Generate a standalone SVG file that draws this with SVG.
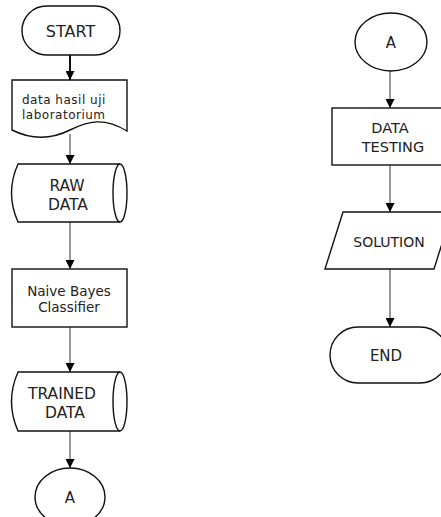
<svg xmlns="http://www.w3.org/2000/svg" width="441" height="517" viewBox="0 0 441 517">
<defs>
<marker id="ah" viewBox="0 0 10 10" refX="10" refY="5" markerWidth="9" markerHeight="9" markerUnits="userSpaceOnUse" orient="auto">
<path d="M0,0 L10,5 L0,10 Z" fill="#000"/>
</marker>
<style>
.s{fill:#fff;stroke:#111;stroke-width:1.4}
.c{fill:none;stroke:#555;stroke-width:1.2;marker-end:url(#ah)}
.t{font-family:"DejaVu Sans","Liberation Sans",sans-serif;fill:#222;text-anchor:middle}
</style>
</defs>
<rect width="441" height="517" fill="#fff"/>
<g id="connectors">
<line class="c" x1="70" y1="55" x2="70" y2="80" style="stroke:#111;stroke-width:2"/>
<line class="c" x1="70" y1="134" x2="70" y2="164"/>
<line class="c" x1="70" y1="222" x2="70" y2="269"/>
<line class="c" x1="70" y1="327" x2="70" y2="372"/>
<line class="c" x1="70" y1="431" x2="70" y2="468"/>
<line class="c" x1="390" y1="71" x2="390" y2="108"/>
<line class="c" x1="390" y1="165" x2="390" y2="212"/>
<line class="c" x1="390" y1="269" x2="390" y2="327"/>
</g>
<g id="start">
<rect class="s" x="22" y="6" width="98" height="49" rx="24.5"/>
<text class="t" x="70.5" y="37" font-size="16">START</text>
</g>
<g id="doc">
<path class="s" d="M12,80 H127 V131 C104,117 88,121 70,130 C50,140 30,139 12,130 Z"/>
<text class="t" x="22" y="104" font-size="12" letter-spacing="0.5" style="text-anchor:start">data hasil uji</text>
<text class="t" x="22" y="118.5" font-size="12" letter-spacing="0.5" style="text-anchor:start">laboratorium</text>
</g>
<g id="rawdata">
<path class="s" d="M120,164 L18,164 Q5,193 18,222 L120,222"/>
<ellipse class="s" cx="120" cy="193" rx="7" ry="29"/>
<text class="t" x="67" y="191" font-size="15.5">RAW</text>
<text class="t" x="68" y="210" font-size="15.5">DATA</text>
</g>
<g id="naive">
<rect class="s" x="12" y="269" width="115" height="58"/>
<text class="t" x="69" y="296" font-size="13.5">Naive Bayes</text>
<text class="t" x="69" y="312" font-size="13.5">Classifier</text>
</g>
<g id="traineddata">
<path class="s" d="M120,372 L18,372 Q5,401.5 18,431 L120,431"/>
<ellipse class="s" cx="120" cy="401.5" rx="7" ry="29.5"/>
<text class="t" x="62" y="399" font-size="15.5">TRAINED</text>
<text class="t" x="65" y="418" font-size="15.5">DATA</text>
</g>
<g id="connA1">
<ellipse class="s" cx="70" cy="497" rx="35" ry="29"/>
<text class="t" x="70" y="503" font-size="15">A</text>
</g>
<g id="connA2">
<ellipse class="s" cx="391" cy="42" rx="36" ry="29"/>
<text class="t" x="391" y="48" font-size="15">A</text>
</g>
<g id="datatesting">
<rect class="s" x="332" y="108" width="116" height="57"/>
<text class="t" x="390" y="133" font-size="14.5">DATA</text>
<text class="t" x="393" y="152" font-size="14.5">TESTING</text>
</g>
<g id="solution">
<path class="s" d="M343,212 H452 L434,269 H325 Z"/>
<text class="t" x="389" y="247" font-size="14">SOLUTION</text>
</g>
<g id="end">
<rect class="s" x="330" y="327" width="118" height="56" rx="28"/>
<text class="t" x="386" y="361" font-size="15">END</text>
</g>
</svg>
